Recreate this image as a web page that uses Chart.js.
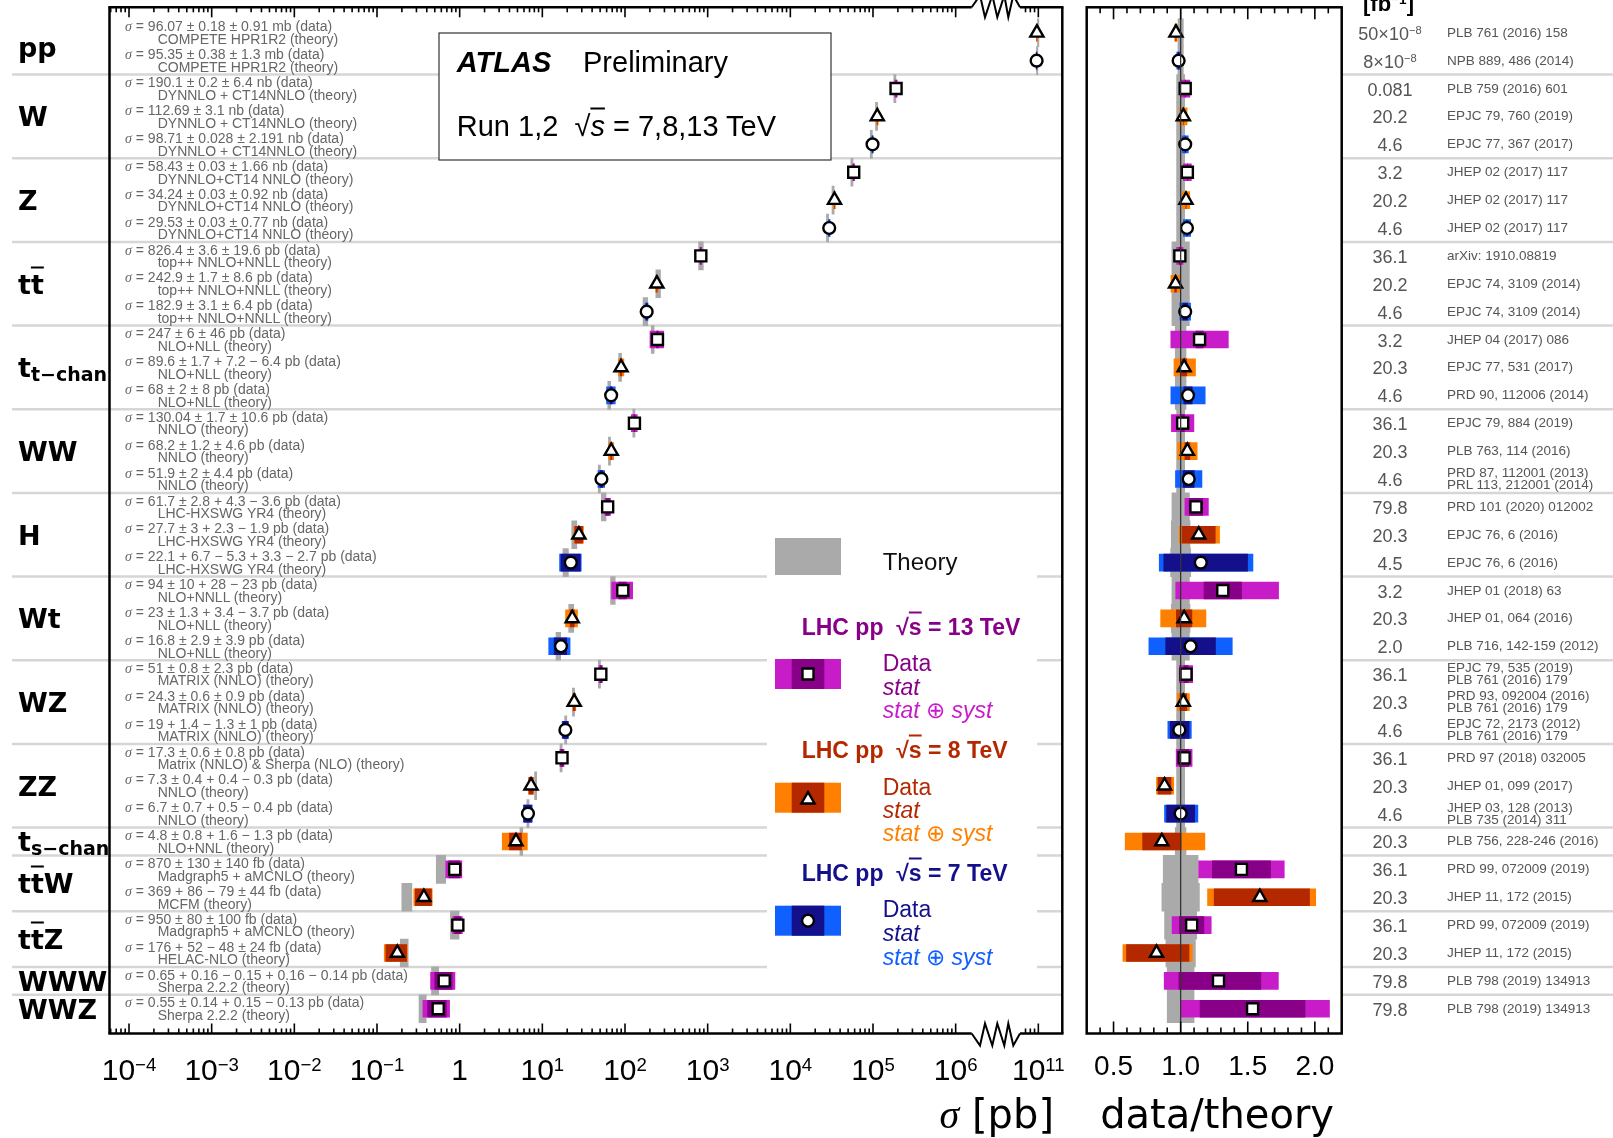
<!doctype html>
<html>
<head>
<meta charset="utf-8">
<title>ATLAS Preliminary - cross section summary</title>
<script src="https://cdn.jsdelivr.net/npm/chart.js@4/dist/chart.umd.min.js"></script>
<style>
	body { margin: 0; background: #fff; }
	#wrap { position: relative; width: 1613px; height: 1138px; overflow: hidden; background: #fff; }
	#wrap canvas { position: absolute; left: 0; top: 0; }
	#labels { position: absolute; left: 0; top: 0; width: 1613px; height: 1138px; pointer-events: none; }
	.t { position: absolute; white-space: nowrap; line-height: 1; font-family: 'Liberation Sans', Arial, sans-serif; }
	.t sup { font-size: 0.62em; vertical-align: 0; position: relative; top: -0.5em; line-height: 0; }
	.sig { font-family: 'Liberation Serif', serif; font-style: italic; }
	.grp { font-family: 'DejaVu Sans', sans-serif; font-weight: bold; font-size: 27px; color: #000; }
	.ov { text-decoration: overline; text-decoration-thickness: 2px; }
	.sb { font-size: 19px; position: relative; top: 4px; }
	.ann { font-size: 14px; color: #666; }
	.ref { font-size: 13.5px; color: #555; }
	.lumi { font-size: 18px; color: #555; }
	.rt { text-decoration: overline; }
</style>
</head>
<body>
<div id="wrap">
	<canvas id="mainCanvas" width="1613" height="1138"></canvas>
	<canvas id="ratioCanvas" width="1613" height="1138"></canvas>
	<div id="labels"></div>
</div>
<script>
// ---- data ----
const groupLabels = ['pp', 'W', 'Z', 't<span class="ov">t</span>', 't<span class="sb">t−chan</span>', 'WW', 'H', 'Wt', 'WZ', 'ZZ',
	't<span class="sb">s−chan</span>', 't<span class="ov">t</span>W', 't<span class="ov">t</span>Z', 'WWW', 'WWZ'];
const groupSizes = [2, 3, 3, 3, 3, 3, 3, 3, 3, 3, 1, 2, 2, 1, 1];

// centre-of-mass energy (TeV) of each row, top to bottom
const energy = [8, 7, 13, 8, 7, 13, 8, 7, 13, 8, 7, 13, 8, 7, 13, 8, 7, 13, 8, 7, 13, 8, 7, 13, 8, 7, 13, 8, 7, 8, 13, 8, 13, 8, 13, 13];

// measured cross sections in pb
const xsec = [9.607e10, 9.535e10, 190100, 112690, 98710, 58430, 34240, 29530, 826.4, 242.9, 182.9, 247, 89.6, 68, 130.04, 68.2, 51.9,
	61.7, 27.7, 22.1, 94, 23, 16.8, 51, 24.3, 19, 17.3, 7.3, 6.7, 4.8, 0.87, 0.369, 0.95, 0.176, 0.65, 0.55];
const statUp = [1.8e8, 3.8e8, 200, 0, 28, 30, 30, 30, 3.6, 1.7, 3.1, 6, 1.7, 2, 1.7, 1.2, 2, 2.8, 3, 6.7, 10, 1.3, 2.9, 0.8, 0.6, 1.4,
	0.6, 0.4, 0.7, 0.8, 0.13, 0.086, 0.08, 0.052, 0.16, 0.14];
const statDn = [1.8e8, 3.8e8, 200, 0, 28, 30, 30, 30, 3.6, 1.7, 3.1, 6, 1.7, 2, 1.7, 1.2, 2, 2.8, 3, 5.3, 10, 1.3, 2.9, 0.8, 0.6, 1.3,
	0.6, 0.4, 0.7, 0.8, 0.13, 0.079, 0.08, 0.048, 0.15, 0.14];
const systUp = [9.1e8, 1.3e9, 6400, 3100, 2191, 1660, 920, 770, 19.6, 8.6, 6.4, 46, 7.2, 8, 10.6, 4.6, 4.4, 4.3, 2.3, 3.3, 28, 3.4, 3.9,
	2.3, 0.9, 1, 0.8, 0.4, 0.5, 1.6, 0.14, 0.044, 0.1, 0.024, 0.16, 0.15];
const systDn = [9.1e8, 1.3e9, 6400, 3100, 2191, 1660, 920, 770, 19.6, 8.6, 6.4, 46, 6.4, 8, 10.6, 4.6, 4.4, 3.6, 1.9, 2.7, 23, 3.7, 3.9,
	2.3, 0.9, 1, 0.8, 0.3, 0.4, 1.3, 0.14, 0.044, 0.1, 0.024, 0.14, 0.13];

// data / theory and relative theory uncertainty
const ratioVals = [0.965, 0.985, 1.034, 1.02, 1.034, 1.05, 1.04, 1.047, 0.994, 0.962, 1.034, 1.141, 1.026, 1.055, 1.015, 1.05, 1.06,
	1.114, 1.135, 1.15, 1.314, 1.026, 1.074, 1.04, 1.02, 0.99, 1.026, 0.88, 1.0, 0.86, 1.453, 1.59, 1.082, 0.82, 1.282, 1.536];
const theoryUnc = [0.02, 0.02, 0.03, 0.03, 0.03, 0.03, 0.03, 0.03, 0.065, 0.065, 0.065, 0.04, 0.04, 0.04, 0.03, 0.03, 0.03,
	0.065, 0.07, 0.075, 0.065, 0.07, 0.065, 0.03, 0.03, 0.03, 0.03, 0.03, 0.03, 0.04, 0.13, 0.14, 0.12, 0.11, 0.1, 0.1];

const dataText = ['96.07 ± 0.18 ± 0.91 mb (data)', '95.35 ± 0.38 ± 1.3 mb (data)', '190.1 ± 0.2 ± 6.4 nb (data)',
	'112.69 ± 3.1 nb (data)', '98.71 ± 0.028 ± 2.191 nb (data)', '58.43 ± 0.03 ± 1.66 nb (data)', '34.24 ± 0.03 ± 0.92 nb (data)',
	'29.53 ± 0.03 ± 0.77 nb (data)', '826.4 ± 3.6 ± 19.6 pb (data)', '242.9 ± 1.7 ± 8.6 pb (data)', '182.9 ± 3.1 ± 6.4 pb (data)',
	'247 ± 6 ± 46 pb (data)', '89.6 ± 1.7 + 7.2 − 6.4 pb (data)', '68 ± 2 ± 8 pb (data)', '130.04 ± 1.7 ± 10.6 pb (data)',
	'68.2 ± 1.2 ± 4.6 pb (data)', '51.9 ± 2 ± 4.4 pb (data)', '61.7 ± 2.8 + 4.3 − 3.6 pb (data)', '27.7 ± 3 + 2.3 − 1.9 pb (data)',
	'22.1 + 6.7 − 5.3 + 3.3 − 2.7 pb (data)', '94 ± 10 + 28 − 23 pb (data)', '23 ± 1.3 + 3.4 − 3.7 pb (data)',
	'16.8 ± 2.9 ± 3.9 pb (data)', '51 ± 0.8 ± 2.3 pb (data)', '24.3 ± 0.6 ± 0.9 pb (data)', '19 + 1.4 − 1.3 ± 1 pb (data)',
	'17.3 ± 0.6 ± 0.8 pb (data)', '7.3 ± 0.4 + 0.4 − 0.3 pb (data)', '6.7 ± 0.7 + 0.5 − 0.4 pb (data)',
	'4.8 ± 0.8 + 1.6 − 1.3 pb (data)', '870 ± 130 ± 140 fb (data)', '369 + 86 − 79 ± 44 fb (data)', '950 ± 80 ± 100 fb (data)',
	'176 + 52 − 48 ± 24 fb (data)', '0.65 + 0.16 − 0.15 + 0.16 − 0.14 pb (data)', '0.55 ± 0.14 + 0.15 − 0.13 pb (data)'];
const theoryText = ['COMPETE HPR1R2 (theory)', 'COMPETE HPR1R2 (theory)', 'DYNNLO + CT14NNLO (theory)', 'DYNNLO + CT14NNLO (theory)',
	'DYNNLO + CT14NNLO (theory)', 'DYNNLO+CT14 NNLO (theory)', 'DYNNLO+CT14 NNLO (theory)', 'DYNNLO+CT14 NNLO (theory)',
	'top++ NNLO+NNLL (theory)', 'top++ NNLO+NNLL (theory)', 'top++ NNLO+NNLL (theory)', 'NLO+NLL (theory)', 'NLO+NLL (theory)',
	'NLO+NLL (theory)', 'NNLO (theory)', 'NNLO (theory)', 'NNLO (theory)', 'LHC-HXSWG YR4 (theory)', 'LHC-HXSWG YR4 (theory)',
	'LHC-HXSWG YR4 (theory)', 'NLO+NNLL (theory)', 'NLO+NLL (theory)', 'NLO+NLL (theory)', 'MATRIX (NNLO) (theory)',
	'MATRIX (NNLO) (theory)', 'MATRIX (NNLO) (theory)', 'Matrix (NNLO) &amp; Sherpa (NLO) (theory)', 'NNLO (theory)',
	'NNLO (theory)', 'NLO+NNL (theory)', 'Madgraph5 + aMCNLO (theory)', 'MCFM (theory)', 'Madgraph5 + aMCNLO (theory)',
	'HELAC-NLO (theory)', 'Sherpa 2.2.2 (theory)', 'Sherpa 2.2.2 (theory)'];
const lumiText = ['50×10<sup>−8</sup>', '8×10<sup>−8</sup>', '0.081', '20.2', '4.6', '3.2', '20.2', '4.6', '36.1', '20.2', '4.6',
	'3.2', '20.3', '4.6', '36.1', '20.3', '4.6', '79.8', '20.3', '4.5', '3.2', '20.3', '2.0', '36.1', '20.3', '4.6', '36.1', '20.3',
	'4.6', '20.3', '36.1', '20.3', '36.1', '20.3', '79.8', '79.8'];
const refText = ['PLB 761 (2016) 158', 'NPB 889, 486 (2014)', 'PLB 759 (2016) 601', 'EPJC 79, 760 (2019)', 'EPJC 77, 367 (2017)',
	'JHEP 02 (2017) 117', 'JHEP 02 (2017) 117', 'JHEP 02 (2017) 117', 'arXiv: 1910.08819', 'EPJC 74, 3109 (2014)',
	'EPJC 74, 3109 (2014)', 'JHEP 04 (2017) 086', 'EPJC 77, 531 (2017)', 'PRD 90, 112006 (2014)', 'EPJC 79, 884 (2019)',
	'PLB 763, 114 (2016)', 'PRD 87, 112001 (2013)|PRL 113, 212001 (2014)', 'PRD 101 (2020) 012002', 'EPJC 76, 6 (2016)',
	'EPJC 76, 6 (2016)', 'JHEP 01 (2018) 63', 'JHEP 01, 064 (2016)', 'PLB 716, 142-159 (2012)',
	'EPJC 79, 535 (2019)|PLB 761 (2016) 179', 'PRD 93, 092004 (2016)|PLB 761 (2016) 179', 'EPJC 72, 2173 (2012)|PLB 761 (2016) 179',
	'PRD 97 (2018) 032005', 'JHEP 01, 099 (2017)', 'JHEP 03, 128 (2013)|PLB 735 (2014) 311', 'PLB 756, 228-246 (2016)',
	'PRD 99, 072009 (2019)', 'JHEP 11, 172 (2015)', 'PRD 99, 072009 (2019)', 'JHEP 11, 172 (2015)', 'PLB 798 (2019) 134913',
	'PLB 798 (2019) 134913'];

// axis tick labels
const mainTickExp = [-4, -3, -2, -1, 0, 1, 2, 3, 4, 5, 6, 11];
const ratioTicks = [0.5, 1.0, 1.5, 2.0];

// ---- styling ----
const W = 1613, H = 1138;
const MAIN = {left: 109.5, right: 1062.3, top: 7.3, bottom: 1033.5};
const RAT = {left: 1086.7, right: 1341.7, top: 7.3, bottom: 1033.5};
const ROW_MIN = -0.914, ROW_MAX = 35.886;
const U_MIN = -4.236, U_MAX = 7.29;
const BREAK = [971.7, 1020];
const GRAY = '#aaaaaa';
const colTot = {13: '#c81cc8', 8: '#ff8000', 7: '#1060ff'};
const colStat = {13: '#880088', 8: '#b42800', 7: '#14108c'};
const colText = {13: '#880088', 8: '#b42800', 7: '#14108c'};
const mstyle = {13: 'rect', 8: 'triangle', 7: 'circle'};
const mrad = {13: 7.8, 8: 7.6, 7: 5.9};

const rows = xsec.map((_, i) => i);
const totUp = rows.map(i => Math.hypot(statUp[i], systUp[i]));
const totDn = rows.map(i => Math.hypot(statDn[i], systDn[i]));
const theory = rows.map(i => xsec[i] / ratioVals[i]);

// broken log axis: values above 1e8 pb are shifted down by four decades
function axisU(v) {
	const l = Math.log10(v);
	return l > 8 ? l - 4 : l;
}

function buildSets(tf) {
	const bar = (order, thick, colors, lo, hi) => ({
		type: 'bar', indexAxis: 'y', order: order, barThickness: thick, grouped: false, borderWidth: 0,
		backgroundColor: colors,
		data: rows.map(i => ({y: i, x: [tf(lo(i), i), tf(hi(i), i)]}))
	});
	const sets = [
		bar(3, 28, GRAY, i => theory[i] * (1 - theoryUnc[i]), i => theory[i] * (1 + theoryUnc[i])),
		bar(2, 17, rows.map(i => colTot[energy[i]]), i => xsec[i] - totDn[i], i => xsec[i] + totUp[i]),
		bar(1, 17, rows.map(i => colStat[energy[i]]), i => xsec[i] - statDn[i], i => xsec[i] + statUp[i])
	];
	[13, 8, 7].forEach(e => {
		sets.push({
			type: 'scatter', order: 0, pointStyle: mstyle[e], pointRadius: mrad[e],
			backgroundColor: '#fff', borderColor: '#000', borderWidth: 2.4,
			data: rows.filter(i => energy[i] === e).map(i => ({x: tf(xsec[i], i), y: i}))
		});
	});
	return sets;
}

function axisOpts(min, max, rev) {
	return {
		type: 'linear', min: min, max: max, reverse: rev, display: false,
		offset: false, beginAtZero: false, grace: 0, bounds: 'data',
		grid: {display: false, offset: false}, ticks: {display: false}
	};
}

function baseOptions(box, xmin, xmax) {
	return {
		responsive: false,
		animation: false,
		events: [],
		layout: {autoPadding: false, padding: {left: box.left, right: W - box.right, top: box.top, bottom: H - box.bottom}},
		plugins: {legend: {display: false}, tooltip: {enabled: false}},
		scales: {
			x: axisOpts(xmin, xmax, false),
			y: axisOpts(ROW_MIN, ROW_MAX, true)
		}
	};
}

function seg(ctx, x1, y1, x2, y2) {
	ctx.beginPath();
	ctx.moveTo(x1, y1);
	ctx.lineTo(x2, y2);
	ctx.stroke();
}

function marker(ctx, style, x, y) {
	ctx.save();
	ctx.fillStyle = '#fff';
	ctx.strokeStyle = '#000';
	ctx.lineWidth = 2.4;
	ctx.beginPath();
	if (style === 'rect') {
		ctx.rect(x - 5.5, y - 5.5, 11, 11);
	} else if (style === 'triangle') {
		const r = 7.6;
		ctx.moveTo(x, y - r);
		ctx.lineTo(x + 0.866 * r, y + 0.5 * r);
		ctx.lineTo(x - 0.866 * r, y + 0.5 * r);
		ctx.closePath();
	} else {
		ctx.arc(x, y, 5.9, 0, 2 * Math.PI);
	}
	ctx.fill();
	ctx.stroke();
	ctx.restore();
}

const mainDecor = {
	id: 'mainDecor',
	beforeDatasetsDraw(chart) {
		const {ctx} = chart;
		const ys = chart.scales.y;
		ctx.save();
		ctx.strokeStyle = '#d6d6d6';
		ctx.lineWidth = 2.5;
		let acc = 0;
		for (let g = 0; g < groupSizes.length - 1; g++) {
			acc += groupSizes[g];
			const py = ys.getPixelForValue(acc - 0.5);
			seg(ctx, 12, py, MAIN.right, py);
			seg(ctx, RAT.right, py, W, py);
		}
		// ATLAS box
		ctx.fillStyle = '#fff';
		ctx.fillRect(439, 33, 392, 127);
		ctx.strokeStyle = '#333';
		ctx.lineWidth = 1.2;
		ctx.strokeRect(439, 33, 392, 127);
		// legend background
		ctx.fillRect(767, 515, 270, 460);
		ctx.restore();
	},
	afterDraw(chart) {
		const {ctx} = chart;
		const xs = chart.scales.x;
		const inBreak = px => px > BREAK[0] - 1 && px < BREAK[1] + 1;
		ctx.save();
		ctx.strokeStyle = '#000';
		ctx.lineWidth = 2.5;
		// frame with the break
		seg(ctx, MAIN.left, MAIN.top, MAIN.left, MAIN.bottom);
		seg(ctx, MAIN.right, MAIN.top, MAIN.right, MAIN.bottom);
		[MAIN.top, MAIN.bottom].forEach(py => {
			seg(ctx, MAIN.left - 1.2, py, BREAK[0], py);
			seg(ctx, BREAK[1], py, MAIN.right + 1.2, py);
		});
		// ticks
		ctx.lineWidth = 1.6;
		for (let d = -5; d <= 7; d++) {
			for (let m = 1; m <= 9; m++) {
				const u = d + Math.log10(m);
				if (u < U_MIN || u > U_MAX) continue;
				const px = xs.getPixelForValue(u);
				if (inBreak(px)) continue;
				const len = m === 1 ? 10 : 5;
				seg(ctx, px, MAIN.bottom, px, MAIN.bottom - len);
				seg(ctx, px, MAIN.top, px, MAIN.top + len);
			}
		}
		// zigzag break marks
		ctx.lineWidth = 2;
		const zx = [971.7, 980, 985, 992.3, 997.3, 1004.3, 1008.3, 1013.3, 1020];
		const zd = [0, 12, -10, 12, -10, 12, -10, 12, 0];
		[[MAIN.bottom, 1], [MAIN.top, -1]].forEach(([base, s]) => {
			ctx.beginPath();
			zx.forEach((x, k) => {
				const y = base + s * zd[k];
				if (k === 0) ctx.moveTo(x, y); else ctx.lineTo(x, y);
			});
			ctx.stroke();
		});
		// legend swatches
		ctx.fillStyle = GRAY;
		ctx.fillRect(775, 538, 66, 37);
		const sw = [[13, 659], [8, 782.7], [7, 905.7]];
		sw.forEach(([e, top]) => {
			ctx.fillStyle = colTot[e];
			ctx.fillRect(775, top, 66, 30);
			ctx.fillStyle = colStat[e];
			ctx.fillRect(791.7, top, 32.6, 30);
			marker(ctx, mstyle[e], 808, top + 15 + (e === 8 ? 2 : 0));
		});
		ctx.restore();
	}
};

const ratioDecor = {
	id: 'ratioDecor',
	afterDatasetsDraw(chart) {
		const {ctx} = chart;
		const px = chart.scales.x.getPixelForValue(1.0);
		ctx.save();
		ctx.strokeStyle = '#333';
		ctx.lineWidth = 1.3;
		seg(ctx, px, RAT.top, px, RAT.bottom);
		ctx.restore();
	},
	afterDraw(chart) {
		const {ctx} = chart;
		const xs = chart.scales.x;
		ctx.save();
		ctx.strokeStyle = '#000';
		ctx.lineWidth = 2.5;
		ctx.strokeRect(RAT.left, RAT.top, RAT.right - RAT.left, RAT.bottom - RAT.top);
		ctx.lineWidth = 1.6;
		for (let k = 4; k <= 21; k++) {
			const v = k / 10;
			const px = xs.getPixelForValue(v);
			const len = k % 5 === 0 ? 12 : 6;
			seg(ctx, px, RAT.bottom, px, RAT.bottom - len);
			seg(ctx, px, RAT.top, px, RAT.top + len);
		}
		ctx.restore();
	}
};

const mainChart = new Chart(document.getElementById('mainCanvas'), {
	type: 'scatter',
	data: {datasets: buildSets(v => axisU(v))},
	options: baseOptions(MAIN, U_MIN, U_MAX),
	plugins: [mainDecor]
});

const ratioChart = new Chart(document.getElementById('ratioCanvas'), {
	type: 'scatter',
	data: {datasets: buildSets((v, i) => v * ratioVals[i] / xsec[i])},
	options: baseOptions(RAT, 0.3, 2.2),
	plugins: [ratioDecor]
});

// ---- text overlay, placed from the chart scales ----
const box = document.getElementById('labels');
function put(html, x, y, cls, css, ax) {
	const d = document.createElement('div');
	d.className = 't ' + (cls || '');
	d.innerHTML = html;
	d.style.left = x + 'px';
	d.style.top = y + 'px';
	d.style.transform = 'translate(' + (ax || 0) + '%, -50%)';
	if (css) d.style.cssText += css;
	box.appendChild(d);
}

const ys = mainChart.scales.y;
const xs = mainChart.scales.x;
const rs = ratioChart.scales.x;

let start = 0;
groupSizes.forEach((n, g) => {
	const yc = ys.getPixelForValue(start + (n - 1) / 2);
	put(groupLabels[g], 18, yc, 'grp');
	start += n;
});

rows.forEach(i => {
	const yc = ys.getPixelForValue(i);
	put('<span class="sig">σ</span> = ' + dataText[i], 125, yc - 6.3, 'ann');
	put(theoryText[i], 157.7, yc + 6.3, 'ann');
	put(lumiText[i], 1390, yc + 1, 'lumi', '', -50);
	const parts = refText[i].split('|');
	if (parts.length === 1) {
		put(parts[0], 1447, yc, 'ref');
	} else {
		put(parts[0], 1447, yc - 6, 'ref');
		put(parts[1], 1447, yc + 6, 'ref');
	}
});

mainTickExp.forEach(e => {
	const px = xs.getPixelForValue(axisU(Math.pow(10, e)));
	const html = e === 0 ? '1' : '10<sup>' + String(e).replace('-', '−') + '</sup>';
	put(html, px, 1070, '', 'font-size:30px;color:#000;', -50);
});
ratioTicks.forEach(v => {
	put(v.toFixed(1), rs.getPixelForValue(v), 1066, '', 'font-size:28px;color:#000;', -50);
});

put('<span class="sig">σ</span> [pb]', 1054, 1114, '', "font-family:'DejaVu Sans',sans-serif;font-size:40px;color:#000;", -100);
put('data/theory', 1334, 1114, '', "font-family:'DejaVu Sans',sans-serif;font-size:40px;color:#000;", -100);
put('[fb<sup>−1</sup>]', 1363, 4, '', 'font-size:22px;font-weight:bold;color:#000;');

// ATLAS label
put('<b><i>ATLAS</i></b>', 456.8, 62.3, '', 'font-size:29px;color:#000;');
put('Preliminary', 583, 62.3, '', 'font-size:29px;color:#000;');
put('Run 1,2&nbsp; √<span class="rt"><i>s</i></span> = 7,8,13 TeV', 456.8, 126.3, '', 'font-size:29px;color:#000;');

// legend
put('Theory', 882.7, 562, '', 'font-size:24px;color:#111;');
const legRows = [[13, 626.7, 663, 686.7, 710], [8, 750, 786.7, 810, 833.3], [7, 872.7, 909.3, 933.3, 956.7]];
legRows.forEach(([e, yh, yd, yst, ysy]) => {
	put('LHC pp&nbsp; √<span class="rt">s</span> = ' + e + ' TeV', 801.7, yh, '', 'font-size:23px;font-weight:bold;color:' + colText[e] + ';');
	put('Data', 882.7, yd, '', 'font-size:23px;color:' + colText[e] + ';');
	put('<i>stat</i>', 882.7, yst, '', 'font-size:23px;color:' + colText[e] + ';');
	put('<i>stat</i> ⊕ <i>syst</i>', 882.7, ysy, '', 'font-size:23px;color:' + colTot[e] + ';');
});
</script>
</body>
</html>
